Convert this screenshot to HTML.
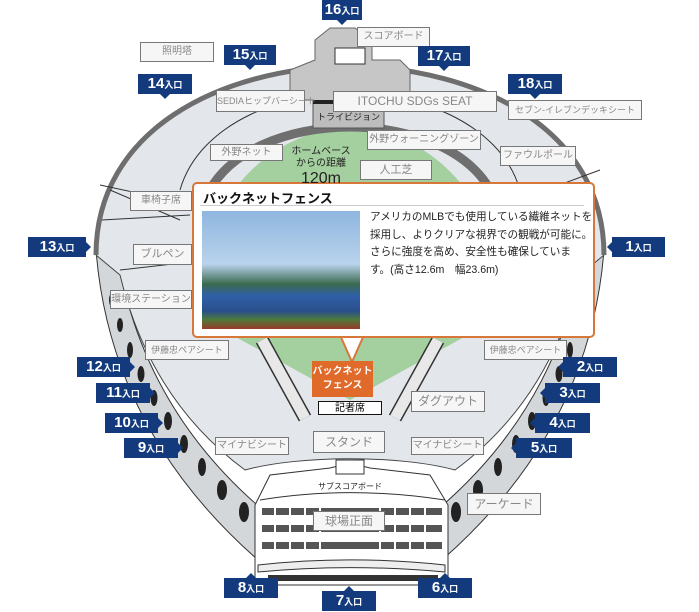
<!DOCTYPE html>
<html><head><meta charset="utf-8"><style>
body{margin:0;background:#fff;width:699px;height:611px;overflow:hidden;position:relative;font-family:"Liberation Sans","Noto Sans CJK JP",sans-serif}
.e{position:absolute;background:#123a7c;color:#fff;font-weight:bold;font-size:15px;height:20px;line-height:20px;text-align:center}
.e small{font-size:9px}
.e::after{content:"";position:absolute;width:0;height:0;border:5px solid transparent}
.d::after{left:50%;margin-left:-5px;top:20px;border-top-color:#123a7c}
.u::after{left:50%;margin-left:-5px;top:-10px;border-bottom-color:#123a7c}
.r::after{right:-10px;top:5px;border-left-color:#123a7c}
.lf::after{left:-10px;top:5px;border-right-color:#123a7c}
.l{position:absolute;background:#f6f6f6;border:1px solid #777;color:#888;font-size:10px;text-align:center;box-sizing:border-box;white-space:nowrap}
svg{position:absolute;left:0;top:0}
</style></head><body>
<svg width="699" height="611" viewBox="0 0 699 611">
<!-- facade left/right -->
<path d="M96,250 Q110,430 258,560 L275,520 Q150,420 120,270 Z" fill="#d4d7da" stroke="#333" stroke-width="1"/>
<path d="M604,250 Q590,430 442,560 L425,520 Q550,420 580,270 Z" fill="#d4d7da" stroke="#333" stroke-width="1"/>
<g fill="#222">
<ellipse cx="112" cy="300" rx="3" ry="7"/><ellipse cx="120" cy="325" rx="3" ry="7"/><ellipse cx="130" cy="350" rx="3" ry="8"/><ellipse cx="141" cy="374" rx="3.5" ry="8"/><ellipse cx="154" cy="398" rx="3.5" ry="8"/><ellipse cx="168" cy="421" rx="4" ry="9"/><ellipse cx="184" cy="444" rx="4" ry="9"/><ellipse cx="202" cy="467" rx="4" ry="9"/><ellipse cx="222" cy="490" rx="5" ry="10"/><ellipse cx="244" cy="512" rx="5" ry="10"/>
<ellipse cx="588" cy="300" rx="3" ry="7"/><ellipse cx="580" cy="325" rx="3" ry="7"/><ellipse cx="570" cy="350" rx="3" ry="8"/><ellipse cx="559" cy="374" rx="3.5" ry="8"/><ellipse cx="546" cy="398" rx="3.5" ry="8"/><ellipse cx="532" cy="421" rx="4" ry="9"/><ellipse cx="516" cy="444" rx="4" ry="9"/><ellipse cx="498" cy="467" rx="4" ry="9"/><ellipse cx="478" cy="490" rx="5" ry="10"/><ellipse cx="456" cy="512" rx="5" ry="10"/>
</g>
<!-- stands -->
<path d="M96,255 C96,130 220,68 350,66 C480,68 604,130 604,255 L580,275 Q550,400 455,470 C400,455 300,455 245,470 Q150,400 120,275 Z" fill="#e3e7eb" stroke="#444" stroke-width="1"/>
<path d="M96,255 C96,130 220,68 350,66 C480,68 604,130 604,255" fill="none" stroke="#6e6e6e" stroke-width="5"/>
<path d="M180,190 C200,120 290,92 350,92 C410,92 500,120 520,190" fill="none" stroke="#333" stroke-width="1"/>
<path d="M100,185 L170,200 M102,220 L190,215 M505,205 L600,170 M120,270 L190,262 M110,190 L180,220" stroke="#333" stroke-width="1"/>
<!-- field -->
<path d="M205,320 C185,220 260,130 350,127 C440,130 515,220 495,320 L350,400 Z" fill="#a4cf9e"/>
<path d="M205,200 C225,150 290,127 350,127 C410,127 475,150 495,200" fill="none" stroke="#6f6f6f" stroke-width="9"/>
<path d="M262,340 L305,418 M438,340 L395,418" stroke="#333" stroke-width="14"/>
<path d="M262,340 L305,418 M438,340 L395,418" stroke="#e8e8e8" stroke-width="11"/>
<!-- scoreboard -->
<path d="M315,40 L330,28 L355,28 L372,40 L372,60 L400,60 L410,70 L410,100 L384,100 L384,128 L313,128 L313,100 L290,100 L290,70 L315,60 Z" fill="#c6c6c6" stroke="#666"/>
<rect x="335" y="48" width="30" height="16" fill="#fff" stroke="#333"/>
<rect x="313" y="103" width="71" height="25" fill="#bdbdbd" stroke="#555"/>
<rect x="313" y="100" width="71" height="4" fill="#222"/>
<!-- bottom building -->
<path d="M255,505 L270,475 L330,468 L350,463 L370,468 L430,475 L448,505 L448,585 L255,585 Z" fill="#fff" stroke="#333"/>
<path d="M260,500 C320,490 380,490 445,500" fill="none" stroke="#333"/>
<g fill="#555">
<rect x="262" y="508" width="180" height="7"/><rect x="262" y="525" width="180" height="7"/><rect x="262" y="542" width="180" height="7"/>
</g>
<g stroke="#fff" stroke-width="2"><path d="M275,505 V560 M290,505 V560 M305,505 V560 M320,505 V560 M380,505 V560 M395,505 V560 M410,505 V560 M425,505 V560"/></g>
<path d="M258,565 C320,558 380,558 445,565 L445,572 C380,566 320,566 258,572 Z" fill="#eee" stroke="#333"/>
<rect x="268" y="575" width="170" height="6" fill="#333"/>
<rect x="336" y="460" width="28" height="14" fill="#fff" stroke="#333"/>
<!-- popup pointer -->
<path d="M340,335 L352,362 L364,335 Z" fill="#fff" stroke="#d7783a" stroke-width="2"/>
</svg>

<div style="position:absolute;left:192px;top:182px;width:399px;height:152px;border:2px solid #d7783a;border-radius:5px;background:#fff"></div>
<div style="position:absolute;left:339px;top:330px;width:26px;height:6px;background:#fff"></div>
<div style="position:absolute;left:203px;top:188px;font-size:13px;font-weight:bold;color:#111">バックネットフェンス</div>
<div style="position:absolute;left:200px;top:205px;width:384px;height:1px;background:#ccc"></div>
<div style="position:absolute;left:202px;top:211px;width:158px;height:118px;background:linear-gradient(#8fb6df 0%,#b9d3ec 45%,#3b6a4f 62%,#2f5fa8 72%,#2a4f8a 85%,#4c7a3a 92%,#9a3a2a 100%)"></div>
<div style="position:absolute;left:370px;top:209px;font-size:10.6px;line-height:17.5px;color:#222;white-space:nowrap">アメリカのMLBでも使用している繊維ネットを<br>採用し、よりクリアな視界での観戦が可能に。<br>さらに強度を高め、安全性も確保していま<br>す。(高さ12.6m　幅23.6m)</div>

<div style="position:absolute;left:312px;top:361px;width:61px;height:36px;background:#e06a2a;color:#fff;font-size:10px;font-weight:bold;text-align:center;line-height:14px;padding-top:4px;box-sizing:border-box">バックネット<br>フェンス</div>
<div style="position:absolute;left:318px;top:401px;width:64px;height:14px;background:#fff;border:1px solid #111;font-size:10px;text-align:center;line-height:13px;box-sizing:border-box">記者席</div>
<div style="position:absolute;left:284px;top:146px;width:74px;text-align:center;font-size:10px;line-height:12px;color:#222">ホームベース<br>からの距離<br><span style="font-size:16px;line-height:18px">120m</span></div>
<div style="position:absolute;left:313px;top:110px;width:71px;text-align:center;font-size:9px;color:#222">トライビジョン</div>
<div style="position:absolute;left:318px;top:481px;font-size:8px;color:#222">サブスコアボード</div>

<div class="l" style="left:140px;top:42px;width:74px;height:20px;line-height:18px">照明塔</div>
<div class="l" style="left:216px;top:90px;width:89px;height:22px;line-height:20px;font-size:9px">SEDIAヒップバーシート</div>
<div class="l" style="left:357px;top:27px;width:73px;height:20px;line-height:18px">スコアボード</div>
<div class="l" style="left:333px;top:91px;width:164px;height:21px;line-height:19px;font-size:12px">ITOCHU SDGs SEAT</div>
<div class="l" style="left:508px;top:100px;width:134px;height:20px;line-height:18px;font-size:9px">セブン-イレブンデッキシート</div>
<div class="l" style="left:210px;top:144px;width:73px;height:17px;line-height:15px">外野ネット</div>
<div class="l" style="left:367px;top:130px;width:114px;height:20px;line-height:18px">外野ウォーニングゾーン</div>
<div class="l" style="left:500px;top:146px;width:76px;height:20px;line-height:18px">ファウルポール</div>
<div class="l" style="left:360px;top:160px;width:72px;height:20px;line-height:18px;font-size:11px">人工芝</div>
<div class="l" style="left:130px;top:191px;width:62px;height:20px;line-height:18px">車椅子席</div>
<div class="l" style="left:133px;top:244px;width:59px;height:21px;line-height:19px;font-size:11px">ブルペン</div>
<div class="l" style="left:110px;top:290px;width:82px;height:19px;line-height:17px">環境ステーション</div>
<div class="l" style="left:145px;top:340px;width:84px;height:20px;line-height:18px;font-size:9px">伊藤忠ペアシート</div>
<div class="l" style="left:484px;top:340px;width:83px;height:20px;line-height:18px;font-size:9px">伊藤忠ペアシート</div>
<div class="l" style="left:411px;top:391px;width:74px;height:21px;line-height:19px;font-size:12px">ダグアウト</div>
<div class="l" style="left:313px;top:431px;width:72px;height:22px;line-height:20px;font-size:12px">スタンド</div>
<div class="l" style="left:215px;top:437px;width:74px;height:18px;line-height:16px">マイナビシート</div>
<div class="l" style="left:411px;top:437px;width:73px;height:18px;line-height:16px">マイナビシート</div>
<div class="l" style="left:313px;top:511px;width:72px;height:20px;line-height:18px;font-size:12px">球場正面</div>
<div class="l" style="left:467px;top:493px;width:74px;height:22px;line-height:20px;font-size:12px">アーケード</div>

<div class="e d" style="left:322px;top:0;width:40px">16<small>入口</small></div>
<div class="e d" style="left:224px;top:45px;width:52px">15<small>入口</small></div>
<div class="e d" style="left:138px;top:74px;width:54px">14<small>入口</small></div>
<div class="e d" style="left:418px;top:46px;width:52px">17<small>入口</small></div>
<div class="e d" style="left:508px;top:74px;width:54px">18<small>入口</small></div>
<div class="e r" style="left:28px;top:237px;width:58px">13<small>入口</small></div>
<div class="e lf" style="left:612px;top:237px;width:53px">1<small>入口</small></div>
<div class="e r" style="left:77px;top:357px;width:53px">12<small>入口</small></div>
<div class="e r" style="left:96px;top:383px;width:54px">11<small>入口</small></div>
<div class="e r" style="left:105px;top:413px;width:53px">10<small>入口</small></div>
<div class="e r" style="left:124px;top:438px;width:54px">9<small>入口</small></div>
<div class="e lf" style="left:563px;top:357px;width:54px">2<small>入口</small></div>
<div class="e lf" style="left:545px;top:383px;width:55px">3<small>入口</small></div>
<div class="e lf" style="left:535px;top:413px;width:55px">4<small>入口</small></div>
<div class="e lf" style="left:516px;top:438px;width:56px">5<small>入口</small></div>
<div class="e u" style="left:224px;top:578px;width:54px">8<small>入口</small></div>
<div class="e u" style="left:322px;top:591px;width:54px">7<small>入口</small></div>
<div class="e u" style="left:418px;top:578px;width:54px">6<small>入口</small></div>
</body></html>
